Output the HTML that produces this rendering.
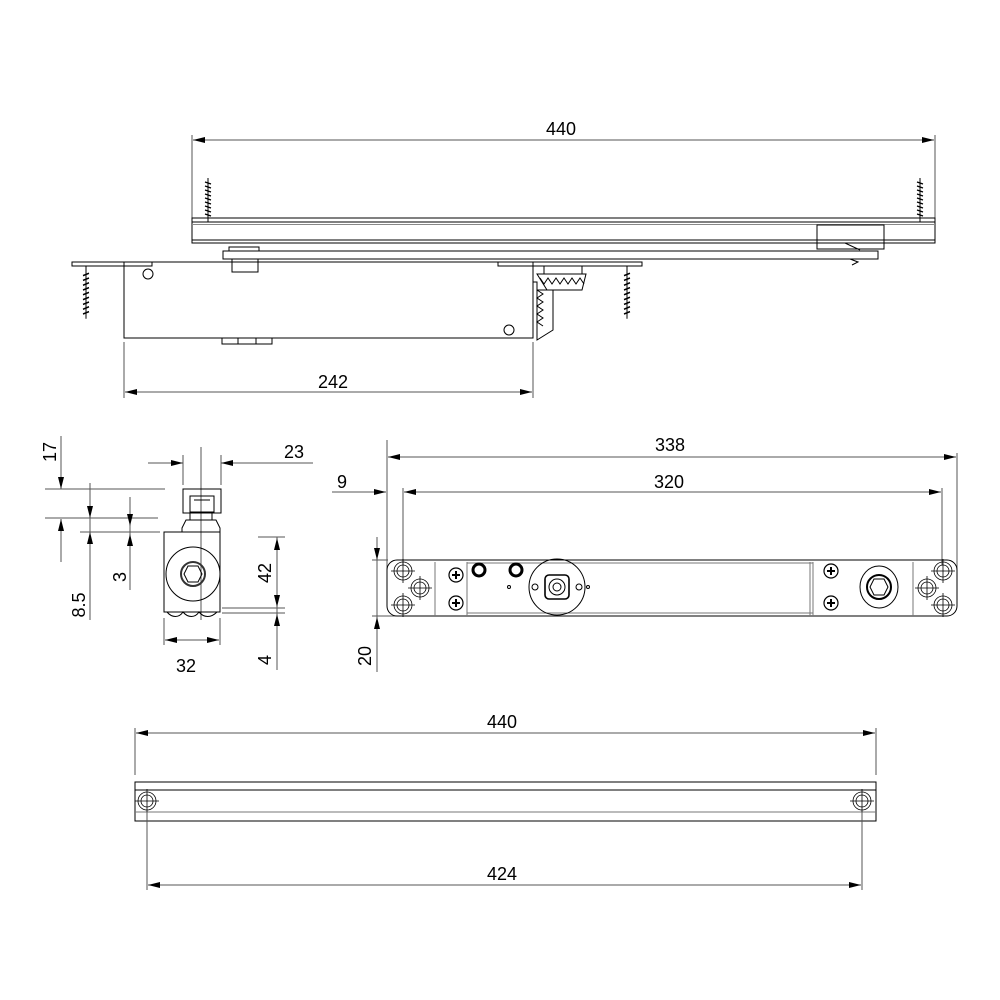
<!DOCTYPE html>
<html><head><meta charset="utf-8"><style>
html,body{margin:0;padding:0;background:#fff}
svg{display:block}
text{font-family:"Liberation Sans",sans-serif;font-size:18px;fill:#000}
</style></head><body>
<svg width="1000" height="1000" viewBox="0 0 1000 1000" xmlns="http://www.w3.org/2000/svg">
<defs>
<marker id="a" viewBox="0 0 12 6" refX="12" refY="3" markerWidth="12" markerHeight="6" orient="auto-start-reverse" markerUnits="userSpaceOnUse"><path d="M0,0 L12,3 L0,6z" fill="#000"/></marker>
<g id="scr"><path d="M0,0 L0,-44" stroke="#000" stroke-width="1"/><path d="M-3,-40 L3,-38 M-3,-36 L3,-34 M-3,-32 L3,-30 M-3,-28 L3,-26 M-3,-24 L3,-22 M-3,-20 L3,-18 M-3,-16 L3,-14 M-3,-12 L3,-10 M-3,-8 L3,-6" stroke="#000" stroke-width="1.3"/></g>
<g id="hole"><circle r="9" fill="none" stroke="#000" stroke-width="0.8"/><circle r="6" fill="none" stroke="#000" stroke-width="0.8"/><path d="M-12,0H12M0,-12V12" stroke="#000" stroke-width="0.8"/></g>
<g id="ph"><circle r="7" fill="none" stroke="#000" stroke-width="1.2"/><path d="M-4,0H4M0,-4V4" stroke="#000" stroke-width="2"/></g>
</defs>
<g fill="none" stroke="#000" stroke-width="1">
<!-- TOP VIEW -->
<path d="M192,135V222M935,135V222" stroke="#555"/>
<line x1="193" y1="140" x2="934" y2="140" stroke="#555" marker-start="url(#a)" marker-end="url(#a)"/>
<rect x="192" y="218" width="743" height="25"/>
<path d="M192,222H935M192,240H935" />
<path d="M192,224.5H935" stroke="#888"/>
<use href="#scr" transform="translate(208,222) scale(1,1)"/>
<use href="#scr" transform="translate(920,222)"/>
<rect x="817" y="225" width="67" height="24"/>
<path d="M822,243H845L860,250M866,243H884"/>
<!-- arm -->
<rect x="223" y="251" width="655" height="8"/>
<path d="M850,259L858,262L852,265" />
<rect x="229" y="247" width="30" height="4"/>
<rect x="232" y="259" width="26" height="13"/>
<!-- mounting plate & body -->
<rect x="72" y="262" width="80" height="4"/>
<rect x="498" y="262" width="144" height="4"/>
<path d="M152,262H498"/>
<rect x="124" y="262" width="409" height="76"/>
<circle cx="148" cy="274" r="5"/>
<circle cx="509" cy="330" r="5"/>
<path d="M222,338v6h50v-6M238,338v6M256,338v6"/>
<use href="#scr" transform="translate(86,266) scale(1,-1.2)"/>
<use href="#scr" transform="translate(627,266) scale(1,-1.2)"/>
<rect x="544" y="266" width="38" height="8"/>
<path d="M537,274H586L582,290H547Z"/>
<path d="M540,278l4,6 4,-6 4,6 4,-6 4,6 4,-6 4,6 4,-6 4,6 4,-6 4,6"/>
<path d="M533,282H537V340L553,330V290H537"/>
<path d="M537,290l6,4 -6,4 6,4 -6,4 6,4 -6,4 6,4 -6,4 6,4"/>
<path d="M124,342V398M533,342V398" stroke="#555"/>
<line x1="125" y1="392" x2="532" y2="392" stroke="#555" marker-start="url(#a)" marker-end="url(#a)"/>

<!-- SIDE VIEW -->
<path d="M61,436V487M61,520V562" stroke="#555"/>
<line x1="61" y1="478" x2="61" y2="489" stroke="#555" marker-end="url(#a)"/>
<line x1="61" y1="530" x2="61" y2="519" stroke="#555" marker-end="url(#a)"/>
<path d="M45,489H165M45,518H158M80,532H160" stroke="#555"/>
<path d="M90,483V620" stroke="#555"/>
<line x1="90" y1="498" x2="90" y2="518" stroke="#555" marker-end="url(#a)"/>
<line x1="90" y1="550" x2="90" y2="532" stroke="#555" marker-end="url(#a)"/>
<path d="M130,497V590" stroke="#555"/>
<line x1="130" y1="505" x2="130" y2="526" stroke="#555" marker-end="url(#a)"/>
<line x1="130" y1="548" x2="130" y2="534" stroke="#555" marker-end="url(#a)"/>
<path d="M183,455V485M221,455V485M201,447V620" stroke="#555"/>
<line x1="148" y1="463" x2="183" y2="463" stroke="#555" marker-end="url(#a)"/>
<line x1="313" y1="463" x2="221" y2="463" stroke="#555" marker-end="url(#a)"/>
<rect x="183" y="489" width="38" height="24"/>
<path d="M190,496H214V512H190Z M194,500H210"/>
<rect x="190" y="512" width="22" height="8"/>
<path d="M186,520H216L220,528V532H182V528Z"/>
<rect x="164" y="532" width="56" height="80"/>
<circle cx="193" cy="574" r="27"/>
<circle cx="193" cy="574" r="12" stroke-width="2" stroke="#333"/>
<path d="M188,566H198L202,574L198,582H188L184,574Z"/>
<path d="M167,612c5,6 12,6 16,0c5,6 12,6 16,0c5,6 12,6 18,0"/>
<path d="M277,537V620M277,625V670" stroke="#555"/>
<path d="M258,537H285M222,608H285M222,613H285" stroke="#555"/>
<line x1="277" y1="585" x2="277" y2="538" stroke="#555" marker-end="url(#a)"/>
<line x1="277" y1="590" x2="277" y2="607" stroke="#555" marker-end="url(#a)"/>
<line x1="277" y1="640" x2="277" y2="614" stroke="#555" marker-end="url(#a)"/>
<path d="M164,618V645M220,618V645" stroke="#555"/>
<line x1="165" y1="640" x2="219" y2="640" stroke="#555" marker-start="url(#a)" marker-end="url(#a)"/>

<!-- BOTTOM PLATE VIEW -->
<path d="M387,440V580M957,453V580M403,488V565M942,488V565" stroke="#555"/>
<line x1="388" y1="457" x2="956" y2="457" stroke="#555" marker-start="url(#a)" marker-end="url(#a)"/>
<line x1="404" y1="492" x2="941" y2="492" stroke="#555" marker-start="url(#a)" marker-end="url(#a)"/>
<line x1="332" y1="492" x2="386" y2="492" stroke="#555" marker-end="url(#a)"/>
<path d="M377,537V672" stroke="#555"/>
<line x1="377" y1="545" x2="377" y2="560" stroke="#555" marker-end="url(#a)"/>
<line x1="377" y1="630" x2="377" y2="617" stroke="#555" marker-end="url(#a)"/>
<path d="M372,560H388M372,616H400" stroke="#555"/>
<rect x="387" y="560" width="570" height="56" rx="10"/>
<path d="M435,562V616M467,562V616M810,562V616M813,562V616M913,562V616" stroke="#777"/>
<rect x="467" y="563" width="346" height="50" stroke="#777"/>
<use href="#hole" x="403" y="571"/><use href="#hole" x="403" y="605"/><use href="#hole" x="420" y="588"/>
<use href="#hole" x="943" y="571"/><use href="#hole" x="943" y="605"/><use href="#hole" x="927" y="588"/>
<use href="#ph" x="456" y="575"/><use href="#ph" x="456" y="603"/>
<use href="#ph" x="831" y="571"/><use href="#ph" x="831" y="603"/>
<circle cx="479" cy="570" r="6" stroke-width="3"/><circle cx="516" cy="570" r="6" stroke-width="3"/>
<circle cx="509" cy="587" r="1.5"/><circle cx="588" cy="587" r="1.5"/>
<circle cx="557" cy="587" r="28"/>
<rect x="545" y="575" width="24" height="24" rx="4" stroke-width="1.6"/>
<circle cx="557" cy="587" r="8"/><circle cx="557" cy="587" r="4"/>
<circle cx="535" cy="587" r="3"/><circle cx="579" cy="587" r="3"/>
<ellipse cx="879" cy="587" rx="19" ry="21"/><circle cx="879" cy="587" r="12" stroke-width="2"/>
<path d="M874,579H884L888,587L884,595H874L870,587Z"/>

<!-- BOTTOM RAIL -->
<path d="M135,728V775M876,728V775" stroke="#555"/>
<line x1="136" y1="733" x2="875" y2="733" stroke="#555" marker-start="url(#a)" marker-end="url(#a)"/>
<rect x="135" y="782" width="741" height="39"/>
<path d="M135,790H876" />
<path d="M135,812H876" stroke="#777"/>
<use href="#hole" x="147" y="801"/><use href="#hole" x="862" y="801"/>
<path d="M147,812V890M862,812V890" stroke="#555"/>
<line x1="148" y1="885" x2="861" y2="885" stroke="#555" marker-start="url(#a)" marker-end="url(#a)"/>
</g>
<text x="561" y="135" text-anchor="middle">440</text>
<text x="333" y="388" text-anchor="middle">242</text>
<text x="294" y="458" text-anchor="middle">23</text>
<text x="186" y="672" text-anchor="middle">32</text>
<text x="670" y="451" text-anchor="middle">338</text>
<text x="669" y="488" text-anchor="middle">320</text>
<text x="342" y="488" text-anchor="middle">9</text>
<text x="502" y="728" text-anchor="middle">440</text>
<text x="502" y="880" text-anchor="middle">424</text>
<text transform="translate(56,452) rotate(-90)" text-anchor="middle">17</text>
<text transform="translate(85,605) rotate(-90)" text-anchor="middle">8.5</text>
<text transform="translate(126,577) rotate(-90)" text-anchor="middle">3</text>
<text transform="translate(271,573) rotate(-90)" text-anchor="middle">42</text>
<text transform="translate(271,660) rotate(-90)" text-anchor="middle">4</text>
<text transform="translate(371,656) rotate(-90)" text-anchor="middle">20</text>
</svg>
</body></html>
